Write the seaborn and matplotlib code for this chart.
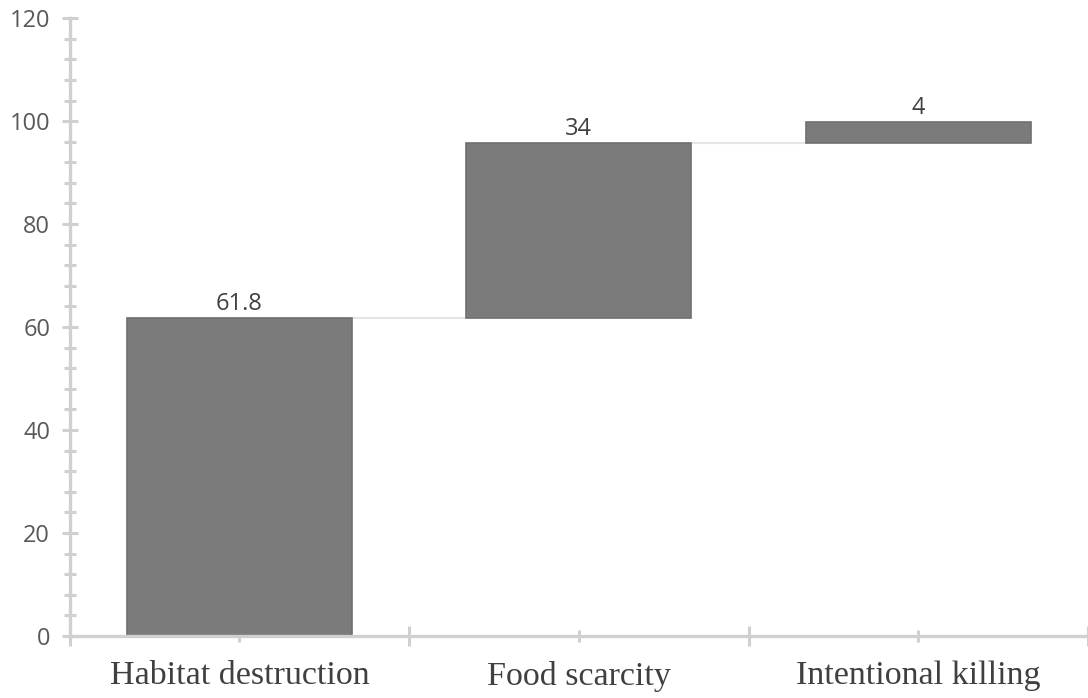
import numpy as np
import pandas as pd
import matplotlib
matplotlib.use("Agg")
import matplotlib.pyplot as plt
import seaborn as sns
from matplotlib.ticker import MultipleLocator

# --- data ---
categories = ["Habitat destruction", "Food scarcity", "Intentional killing"]
values = [61.8, 34, 4]
value_labels = ["61.8", "34", "4"]

bases = np.concatenate([[0], np.cumsum(values)[:-1]])
tops = bases + np.array(values)
df = pd.DataFrame({"cause": categories, "value": values, "base": bases})

sns.set_theme(style="white")
plt.rcParams["font.family"] = ["Open Sans", "DejaVu Sans"]

axis_col = "#d0d0d0"
bar_col = "#7b7b7b"

fig = plt.figure(figsize=(10.88, 6.98), dpi=100)
ax = fig.add_axes([0.064, 0.089, 0.936, 0.885])

sns.barplot(data=df, x="cause", y="value", bottom=df["base"], ax=ax,
            color=bar_col, saturation=1, width=0.663,
            edgecolor="#707070", linewidth=1.2)

# connector lines between bars
for i in range(len(values) - 1):
    ax.plot([i + 0.3315, i + 1 - 0.3315], [tops[i], tops[i]],
            color="#e6e6e6", lw=1.5, zorder=0)

# value labels
for i, lab in enumerate(value_labels):
    ax.text(i, tops[i] + 0.4, lab, ha="center", va="bottom",
            fontsize=17, color="#404040")

ax.set_xlim(-0.5, 2.485)
ax.set_ylim(0, 120)
ax.set_xlabel("")
ax.set_ylabel("")

# y axis ticks
ax.yaxis.set_major_locator(MultipleLocator(20))
ax.yaxis.set_minor_locator(MultipleLocator(4))
ax.tick_params(axis="y", which="major", direction="inout", length=12, width=2.2,
               color=axis_col, labelsize=17, labelcolor="#595959", pad=8, left=True)
ax.tick_params(axis="y", which="minor", direction="inout", length=8, width=2.2,
               color=axis_col, left=True)

# x axis: labels at centers, big ticks at category boundaries
ax.set_xticks(range(len(categories)))
ax.set_xticklabels(categories, fontsize=24.5, color="#404040",
                   family=["Liberation Serif", "DejaVu Serif"])
ax.set_xticks([-0.5, 0.5, 1.5, 2.5], minor=True)
ax.tick_params(axis="x", which="major", direction="inout", length=8, width=2.2,
               color=axis_col, pad=14, bottom=True)
ax.tick_params(axis="x", which="minor", direction="inout", length=14, width=2.2,
               color=axis_col, bottom=True)

sns.despine(ax=ax)
for side in ["left", "bottom"]:
    ax.spines[side].set_color(axis_col)
    ax.spines[side].set_linewidth(2.4)
ax.spines["bottom"].set_clip_on(False)

fig.savefig("out.png", dpi=100)
